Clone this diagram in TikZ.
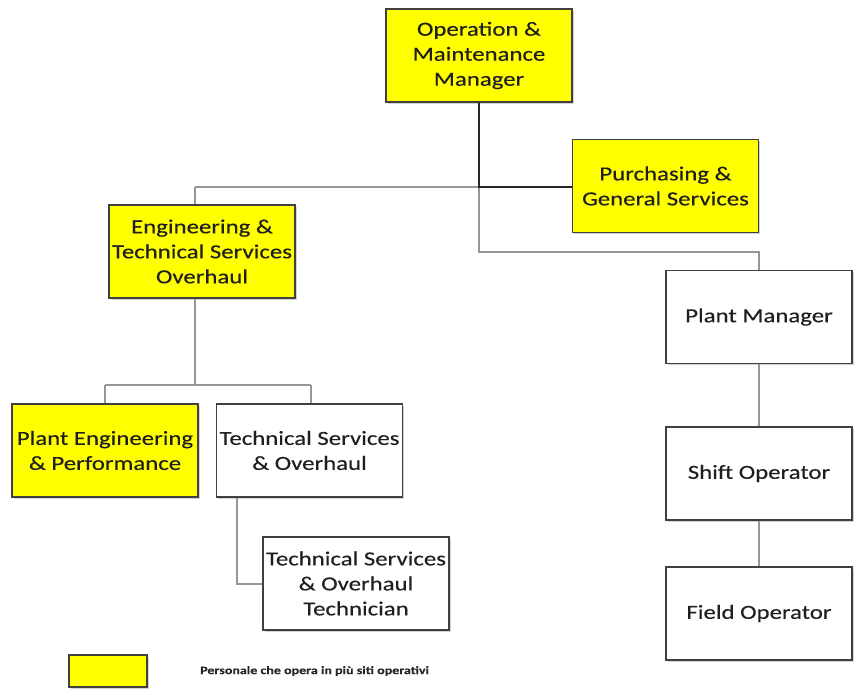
\documentclass[tikz,border=0pt]{standalone}
\usepackage{fontspec}
\setmainfont{Carlito}[FakeStretch=1.24,FakeBold=0.25]
\usetikzlibrary{shadows}
\definecolor{boxyellow}{RGB}{255,255,0}
\definecolor{linegray}{RGB}{150,150,150}
\begin{document}
\begin{tikzpicture}[x=1pt,y=-1pt,
  orgbox/.style={draw=black!75, line width=1.3pt, minimum width=186pt, minimum height=93pt,
    align=center, inner sep=2pt, font=\fontsize{20}{25}\selectfont, text=black!88,
    drop shadow={shadow xshift=1.5pt, shadow yshift=-1.5pt, opacity=0.35}},
  yel/.style={orgbox, fill=boxyellow},
  wht/.style={orgbox, fill=white},
  conn/.style={draw=linegray, line width=1.3pt},
  darkconn/.style={draw=black!85, line width=1.3pt}]
\useasboundingbox (0,0) rectangle (855,689);
\node[yel] (omm) at (479,55.5) {Operation \&\\Maintenance\\Manager};
\node[yel] (pgs) at (665.5,186) {Purchasing \&\\General Services};
\node[yel] (ets) at (202,251.5) {Engineering \&\\Technical Services\\Overhaul};
\node[wht] (pm) at (759,317) {Plant Manager};
\node[wht] (so) at (759,473.5) {Shift Operator};
\node[wht] (fo) at (759,613.5) {Field Operator};
\node[yel] (pep) at (105,450.5) {Plant Engineering\\\& Performance};
\node[wht] (tso) at (309.5,450.5) {Technical Services\\\& Overhaul};
\node[wht] (tsot) at (356,583.5) {Technical Services\\\& Overhaul\\Technician};
\node[draw=black!75, line width=1.3pt, fill=boxyellow, minimum width=78pt, minimum height=32pt,
  drop shadow={shadow xshift=1.5pt, shadow yshift=-1.5pt, opacity=0.35}] (leg) at (108,671) {};
\node[anchor=west, inner sep=0pt, font=\fontsize{11.3}{13}\selectfont\bfseries, text=black!85] (legt) at (200,671) {Personale che opera in più siti operativi};
% connectors
\coordinate (j1) at (479,187);
\coordinate (j2) at (479,252);
\coordinate (j3) at (759,252);
\coordinate (e1) at (195,187);
\coordinate (e2) at (195,385);
\coordinate (e3) at (105,385);
\coordinate (e4) at (311,385);
\coordinate (t1) at (237,584);
\draw[conn] (e1) -- (e1 |- ets.north);
\draw[conn] (e1) -- (j1);
\draw[conn] (j1) -- (j2) -- (j3) -- (pm.north);
\draw[darkconn] (omm.south) -- (j1) -- (j1 -| pgs.west);
\draw[conn] (e2 |- ets.south) -- (e2);
\draw[conn] (e3) -- (e4);
\draw[conn] (e3) -- (pep.north);
\draw[conn] (e4) -- (e4 |- tso.north);
\draw[conn] (t1 |- tso.south) -- (t1) -- (t1 -| tsot.west);
\draw[conn] (pm.south) -- (so.north);
\draw[conn] (so.south) -- (fo.north);
\end{tikzpicture}
\end{document}
